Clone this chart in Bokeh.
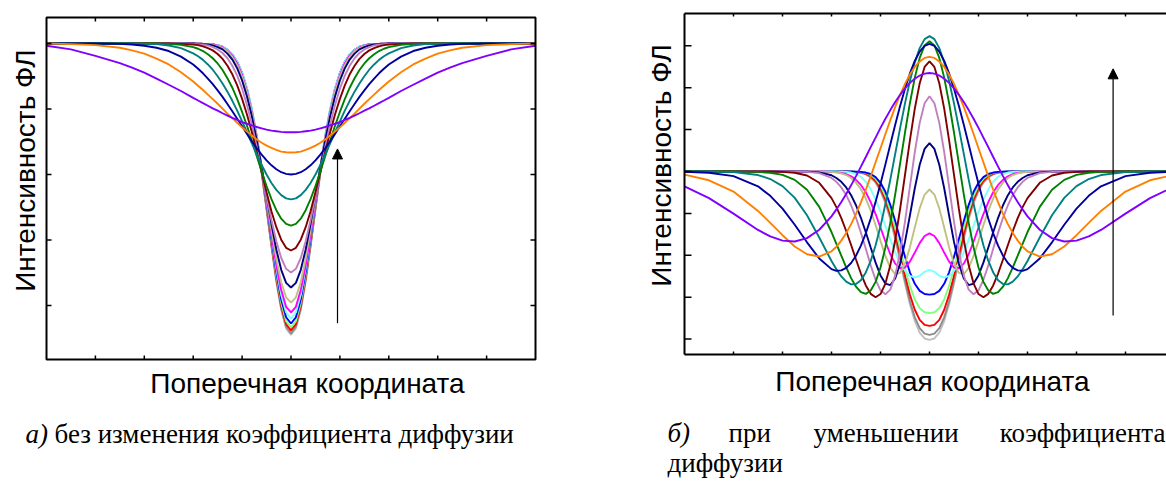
import numpy as np
from bokeh.plotting import figure
from bokeh.models import Range1d, Label, Arrow, NormalHead
from bokeh.layouts import row
from bokeh.embed import file_html
from bokeh.resources import INLINE

# ---------------- data ----------------
names = ["lgray", "gray", "red", "lgreen", "blue", "cyan", "magenta", "khaki",
         "navy", "plum", "wine", "green", "teal", "royal", "orange", "violet"]
colors = ["#c0c0c0", "#8c8c8c", "#ff0000", "#80ff80", "#0000ff", "#80ffff", "#ff00ff", "#c0c080",
          "#000080", "#c080c0", "#800000", "#008000", "#008080", "#0000a0", "#ff8000", "#8000ff"]

# transverse coordinate (half profile, curves are symmetric about 0)
xs_half = [0.0, 0.1, 0.2, 0.3, 0.4, 0.5, 0.6, 0.7, 0.8, 0.9, 1.0, 1.1, 1.2, 1.3, 1.4, 1.5, 1.6, 1.7,
           1.8, 1.9, 2.0, 2.25, 2.5, 2.75, 3.0, 3.25, 3.5, 4.0, 4.5, 5.0]

# panel a) - constant diffusion coefficient
a_lgray = [.110, .130, .187, .273, .379, .493, .604, .704, .789, .856, .906, .941, .965, .980, .989, .994,
           .997, .999, .999, 1, 1, 1, 1, 1, 1, 1, 1, 1, 1, 1]
a_gray = [.115, .135, .191, .277, .382, .495, .606, .706, .790, .857, .907, .942, .965, .980, .989, .994,
          .997, .999, .999, 1, 1, 1, 1, 1, 1, 1, 1, 1, 1, 1]
a_red = [.124, .143, .199, .284, .389, .501, .610, .709, .792, .858, .908, .942, .966, .980, .989, .994,
         .997, .999, .999, 1, 1, 1, 1, 1, 1, 1, 1, 1, 1, 1]
a_lgreen = [.133, .152, .208, .292, .395, .506, .614, .712, .794, .860, .908, .943, .966, .981, .989, .994,
            .997, .999, .999, 1, 1, 1, 1, 1, 1, 1, 1, 1, 1, 1]
a_blue = [.145, .164, .219, .302, .403, .513, .619, .716, .797, .862, .910, .944, .966, .981, .990, .995,
          .997, .999, .999, 1, 1, 1, 1, 1, 1, 1, 1, 1, 1, 1]
a_cyan = [.160, .179, .232, .314, .414, .521, .626, .721, .801, .864, .911, .945, .967, .981, .990, .995,
          .997, .999, .999, 1, 1, 1, 1, 1, 1, 1, 1, 1, 1, 1]
a_magenta = [.179, .196, .247, .323, .417, .520, .621, .713, .792, .855, .904, .939, .963, .978, .988, .993,
             .997, .998, .999, 1, 1, 1, 1, 1, 1, 1, 1, 1, 1, 1]
a_khaki = [.209, .225, .271, .343, .431, .527, .623, .712, .788, .851, .899, .934, .959, .976, .986, .992,
           .996, .998, .999, 1, 1, 1, 1, 1, 1, 1, 1, 1, 1, 1]
a_navy = [.255, .269, .309, .371, .449, .535, .622, .704, .777, .838, .887, .924, .951, .969, .982, .989,
          .994, .997, .998, .999, 1, 1, 1, 1, 1, 1, 1, 1, 1, 1]
a_plum = [.301, .312, .345, .396, .461, .534, .610, .684, .753, .812, .862, .902, .932, .955, .971, .982,
          .989, .994, .996, .998, .999, 1, 1, 1, 1, 1, 1, 1, 1, 1]
a_wine = [.368, .376, .401, .439, .488, .546, .607, .669, .729, .783, .831, .872, .906, .932, .953, .968,
          .979, .986, .991, .995, .997, .999, 1, 1, 1, 1, 1, 1, 1, 1]
a_green = [.444, .449, .465, .491, .525, .565, .609, .656, .703, .749, .791, .830, .865, .894, .919, .939,
           .955, .967, .977, .984, .989, .996, .999, 1, 1, 1, 1, 1, 1, 1]
a_teal = [.524, .527, .537, .553, .574, .600, .629, .661, .695, .729, .762, .795, .825, .853, .878, .900,
          .920, .936, .950, .961, .970, .986, .994, .998, .999, 1, 1, 1, 1, 1]
a_royal = [.600, .602, .607, .616, .628, .643, .661, .680, .701, .724, .747, .770, .793, .815, .837, .857,
           .876, .893, .909, .923, .936, .960, .977, .987, .993, .997, .999, 1, 1, 1]
a_orange = [.667, .668, .670, .675, .681, .688, .697, .707, .719, .731, .744, .758, .772, .786, .801, .816,
            .830, .844, .858, .871, .884, .912, .936, .954, .969, .979, .987, .995, .998, 1]
a_violet = [.729, .729, .730, .732, .734, .737, .741, .745, .750, .755, .760, .767, .773, .780, .787, .795,
            .802, .810, .818, .826, .834, .855, .874, .893, .911, .926, .940, .962, .982, .993]

# panel b) - decreasing diffusion coefficient
b_lgray = [.196, .203, .231, .286, .366, .464, .571, .676, .771, .848, .906, .946, .971, .986, .993, .997,
           .999, 1, 1, 1, 1, 1, 1, 1, 1, 1, 1, 1, 1, 1]
b_gray = [.220, .226, .252, .304, .381, .477, .582, .687, .780, .856, .912, .951, .974, .988, .995, .998,
          .999, 1, 1, 1, 1, 1, 1, 1, 1, 1, 1, 1, 1, 1]
b_red = [.263, .268, .292, .340, .412, .503, .604, .704, .794, .867, .920, .956, .978, .990, .996, .998,
         .999, 1, 1, 1, 1, 1, 1, 1, 1, 1, 1, 1, 1, 1]
b_lgreen = [.324, .328, .347, .389, .454, .538, .633, .729, .814, .883, .933, .965, .983, .993, .997, .999,
            1, 1, 1, 1, 1, 1, 1, 1, 1, 1, 1, 1, 1, 1]
b_blue = [.412, .415, .430, .464, .519, .593, .678, .764, .841, .903, .946, .973, .988, .995, .998, .999,
          1, 1, 1, 1, 1, 1, 1, 1, 1, 1, 1, 1, 1, 1]
b_cyan = [.531, .521, .502, .494, .502, .526, .564, .614, .675, .741, .807, .867, .915, .951, .975, .988,
          .995, .998, .999, 1, 1, 1, 1, 1, 1, 1, 1, 1, 1, 1]
b_magenta = [.705, .692, .658, .613, .570, .542, .538, .560, .605, .666, .732, .797, .854, .901, .936, .960,
             .977, .987, .993, .997, .998, 1, 1, 1, 1, 1, 1, 1, 1, 1]
b_khaki = [.914, .890, .824, .733, .638, .560, .516, .510, .540, .597, .669, .744, .813, .871, .915, .947,
           .969, .983, .991, .995, .998, 1, 1, 1, 1, 1, 1, 1, 1, 1]
b_navy = [1.135, 1.108, 1.032, .920, .790, .664, .560, .489, .458, .465, .504, .565, .637, .710, .779, .839,
          .887, .924, .951, .969, .982, .996, .999, 1, 1, 1, 1, 1, 1, 1]
b_plum = [1.359, 1.326, 1.232, 1.093, .928, .761, .614, .503, .436, .414, .433, .483, .552, .631, .708, .779,
          .839, .888, .924, .951, .969, .992, .998, 1, 1, 1, 1, 1, 1, 1]
b_wine = [1.526, 1.499, 1.421, 1.300, 1.149, .984, .821, .673, .552, .465, .415, .400, .416, .456, .513, .580,
          .649, .716, .777, .830, .873, .946, .981, .994, .998, 1, 1, 1, 1, 1]
b_green = [1.622, 1.602, 1.542, 1.448, 1.326, 1.186, 1.038, .891, .755, .637, .542, .473, .432, .416, .424,
           .450, .491, .542, .598, .655, .711, .831, .913, .960, .984, .994, .998, 1, 1, 1]
b_teal = [1.646, 1.632, 1.589, 1.521, 1.432, 1.325, 1.207, 1.084, .961, .845, .739, .648, .573, .518, .481,
          .463, .461, .474, .499, .533, .573, .685, .791, .874, .930, .964, .983, .997, 1, 1]
b_royal = [1.609, 1.600, 1.572, 1.528, 1.468, 1.395, 1.313, 1.223, 1.129, 1.034, .942, .855, .775, .705, .646,
           .598, .563, .540, .528, .526, .534, .585, .662, .746, .823, .884, .929, .978, .994, .999]
b_orange = [1.547, 1.542, 1.525, 1.499, 1.463, 1.418, 1.366, 1.308, 1.245, 1.179, 1.111, 1.044, .977, .913,
            .853, .798, .749, .706, .670, .641, .619, .594, .605, .642, .696, .755, .812, .904, .958, .985]
b_violet = [1.470, 1.467, 1.458, 1.443, 1.423, 1.397, 1.366, 1.332, 1.293, 1.252, 1.208, 1.162, 1.116, 1.069,
            1.023, .978, .934, .893, .854, .819, .786, .722, .682, .666, .670, .690, .721, .799, .873, .929]

series_a = [a_lgray, a_gray, a_red, a_lgreen, a_blue, a_cyan, a_magenta, a_khaki,
            a_navy, a_plum, a_wine, a_green, a_teal, a_royal, a_orange, a_violet]
series_b = [b_lgray, b_gray, b_red, b_lgreen, b_blue, b_cyan, b_magenta, b_khaki,
            b_navy, b_plum, b_wine, b_green, b_teal, b_royal, b_orange, b_violet]

x_ticks = [-4, -3, -2, -1, 0, 1, 2, 3, 4]
y_ticks_a = [0.2, 0.4, 0.6, 0.8, 1.0]
y_ticks_b = [0.2, 0.4, 0.6, 0.8, 1.0, 1.2, 1.4, 1.6]

# arrows: (x, y_from, y_to)
arrow_a = (0.951, 0.146, 0.678)
arrow_b = (3.747, 0.313, 1.490)

y_title = "Интенсивность ФЛ"
x_title = "Поперечная координата"

# ---------------- drawing ----------------
SANS = "Liberation Sans"
SERIF = "Liberation Serif"
TSIZE = "28px"
CSIZE = "27px"

# plot boxes in data units
box_a = (-5.0, 5.0, 0.0351, 1.0794)
box_b = (-5.0, 5.0, 0.1265, 1.7542)


def mirror(yh):
    n = len(yh)
    xh = xs_half[:n]
    x = [-v for v in reversed(xh[1:])] + list(xh)
    y = list(reversed(yh[1:])) + list(yh)
    return x, y


def make_fig(w, h, xr, yr):
    p = figure(width=w, height=h, x_range=Range1d(*xr), y_range=Range1d(*yr),
               output_backend="svg", toolbar_location=None, min_border=0,
               x_axis_location=None, y_axis_location=None)
    p.outline_line_color = None
    p.xgrid.visible = False
    p.ygrid.visible = False
    p.background_fill_color = "white"
    p.border_fill_color = "white"
    return p


def lab(p, x, y, t, size, font=SANS, align="center", angle=0.0, style="normal"):
    p.add_layout(Label(x=x, y=y, text=t, text_font=font, text_font_size=size, text_align=align,
                       text_baseline="middle", angle=angle, text_color="black",
                       text_font_style=style))


def ticks(p, box, xt, yt, lx, ly, right_side):
    x0, x1, y0, y1 = box
    kw = dict(length_units="screen", line_color="black", line_width=1.5)
    p.ray(x=xt, y=[y0] * len(xt), length=lx, angle=np.pi / 2, **kw)
    p.ray(x=xt, y=[y1] * len(xt), length=lx, angle=-np.pi / 2, **kw)
    p.ray(x=[x0] * len(yt), y=yt, length=ly, angle=0.0, **kw)
    if right_side:
        p.ray(x=[x1] * len(yt), y=yt, length=ly, angle=np.pi, **kw)


def arrow(p, a):
    p.add_layout(Arrow(end=NormalHead(size=10, fill_color="black", line_color="black", line_width=1),
                       x_start=a[0], y_start=a[1], x_end=a[0], y_end=a[2],
                       line_width=1.2, line_color="black"))


# ---- panel a ----
pa = make_fig(600, 482, (-5.9407, 6.3292), (-0.3405, 1.1313))
for ys, c in zip(series_a, colors):
    x, y = mirror(ys)
    pa.line(x, y, line_color=c, line_width=1.9)
ticks(pa, box_a, x_ticks, y_ticks_a, 4, 5, True)
pa.quad(left=[box_a[0]], right=[box_a[1]], bottom=[box_a[2]], top=[box_a[3]],
        fill_color=None, line_color="black", line_width=2)
arrow(pa, arrow_a)
lab(pa, -5.429, 0.612, y_title, TSIZE, angle=np.pi / 2)
lab(pa, 0.337, -0.038, x_title, TSIZE)
lab(pa, -5.429, -0.191, "а)", CSIZE, font=SERIF, align="left", style="italic")
lab(pa, -4.836, -0.191, "без изменения коэффициента диффузии", CSIZE, font=SERIF, align="left")

# ---- panel b ----
pb = make_fig(566, 482, (-6.7143, 4.8367), (-0.4845, 1.8162))
for ys, c in zip(series_b, colors):
    x, y = mirror(ys)
    pb.line(x, y, line_color=c, line_width=1.9)
ticks(pb, box_b, x_ticks, y_ticks_b, 3, 7, False)
pb.segment(x0=[box_b[0], box_b[0], box_b[0]], y0=[box_b[2], box_b[2], box_b[3]],
           x1=[box_b[0], 6.0, 6.0], y1=[box_b[3], box_b[2], box_b[3]],
           line_color="black", line_width=2)
arrow(pb, arrow_b)
lab(pb, -5.469, 1.029, y_title, TSIZE, angle=np.pi / 2)
lab(pb, 0.061, -0.002, x_title, TSIZE)
lab(pb, -5.347, -0.246, "б)", CSIZE, font=SERIF, align="left", style="italic")
lab(pb, -4.102, -0.246, "при", CSIZE, font=SERIF, align="left")
lab(pb, -2.367, -0.246, "уменьшении", CSIZE, font=SERIF, align="left")
lab(pb, 4.816, -0.246, "коэффициента", CSIZE, font=SERIF, align="right")
lab(pb, -5.347, -0.392, "диффузии", CSIZE, font=SERIF, align="left")

layout = row(pa, pb)
open("out.html", "w").write(file_html(layout, INLINE))
